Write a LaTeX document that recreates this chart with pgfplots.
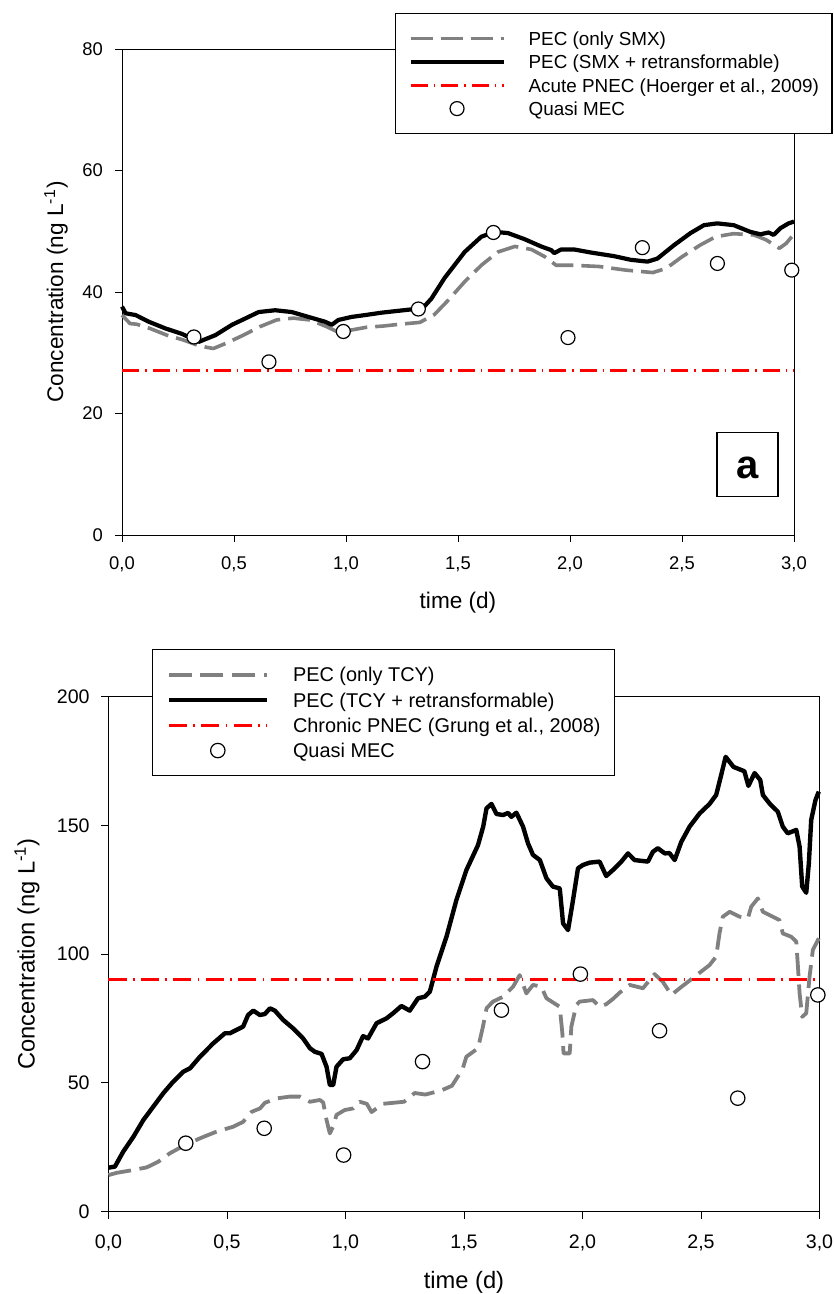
\documentclass[border=0pt]{standalone}
\usepackage{fontspec}
\setmainfont{Liberation Sans}
\usepackage{pgfplots}
\pgfplotsset{compat=1.18}
\definecolor{pecgray}{RGB}{128,128,128}
\definecolor{pnecred}{RGB}{255,0,0}

\pgfplotstableread{
x y
0.000 37.6
0.016 36.5
0.061 36.2
0.120 35.1
0.194 34.0
0.268 33.1
0.343 31.8
0.417 32.9
0.491 34.6
0.565 35.9
0.610 36.7
0.684 37.0
0.758 36.7
0.832 35.9
0.907 35.1
0.936 34.6
0.966 35.4
1.025 35.9
1.085 36.2
1.159 36.6
1.233 36.9
1.307 37.2
1.344 37.4
1.381 38.9
1.440 42.3
1.530 46.6
1.604 49.1
1.663 49.9
1.723 49.7
1.797 48.7
1.871 47.5
1.916 46.9
1.930 46.4
1.960 47.0
2.019 47.0
2.093 46.5
2.197 45.9
2.271 45.3
2.346 45.0
2.390 45.5
2.464 47.7
2.538 49.7
2.598 51.0
2.657 51.3
2.731 51.0
2.805 49.9
2.850 49.5
2.887 49.8
2.909 49.4
2.939 50.5
2.976 51.3
3.000 51.6
}\topblack

\pgfplotstableread{
x y
0.000 36.2
0.036 34.8
0.065 34.7
0.125 34.0
0.200 32.9
0.274 32.1
0.348 31.1
0.408 30.7
0.467 31.6
0.542 32.9
0.616 34.3
0.690 35.4
0.765 35.7
0.839 35.4
0.914 34.3
0.958 33.5
1.018 33.7
1.092 34.2
1.167 34.4
1.241 34.7
1.330 35.0
1.395 36.3
1.455 38.6
1.530 41.7
1.604 44.4
1.679 46.6
1.754 47.5
1.828 47.0
1.888 45.8
1.938 44.4
2.013 44.4
2.130 44.2
2.250 43.6
2.370 43.2
2.430 43.9
2.500 45.8
2.580 47.7
2.650 49.1
2.730 49.6
2.820 49.4
2.875 48.6
2.935 47.2
2.965 48.0
2.990 49.1
}\topgray

\pgfplotstableread{
x y
0.321 32.6
0.656 28.5
0.988 33.5
1.323 37.2
1.658 49.8
1.991 32.5
2.323 47.3
2.658 44.7
2.990 43.6
}\topmec

\pgfplotstableread{
x y
0.000 17.0
0.027 17.4
0.062 23.2
0.105 29.0
0.147 35.5
0.189 40.7
0.231 45.9
0.273 50.4
0.316 54.3
0.344 55.6
0.386 60.1
0.442 65.3
0.491 69.2
0.512 69.2
0.568 71.8
0.589 76.3
0.611 78.0
0.639 76.3
0.660 76.7
0.681 78.9
0.702 78.0
0.737 74.4
0.779 71.1
0.821 67.2
0.850 63.4
0.871 62.0
0.899 61.2
0.920 56.2
0.934 49.1
0.948 49.1
0.962 56.2
0.990 59.1
1.018 59.5
1.047 62.7
1.074 68.1
1.095 67.2
1.131 73.1
1.173 75.0
1.201 77.0
1.236 79.8
1.271 78.0
1.306 82.8
1.334 83.4
1.356 85.4
1.384 95.1
1.426 106.7
1.468 121.0
1.510 132.6
1.559 142.3
1.581 149.5
1.595 156.6
1.616 158.3
1.637 154.4
1.665 154.0
1.686 154.8
1.700 153.3
1.721 154.9
1.749 149.5
1.770 143.0
1.791 138.5
1.820 136.5
1.848 129.4
1.875 126.2
1.904 125.5
1.918 111.9
1.939 109.3
1.960 121.0
1.981 133.3
2.002 134.6
2.030 135.5
2.072 135.9
2.100 130.3
2.128 132.6
2.164 135.9
2.192 139.1
2.220 136.5
2.276 135.9
2.297 139.7
2.318 141.1
2.347 139.1
2.367 139.2
2.389 136.5
2.417 143.6
2.452 149.5
2.494 154.6
2.536 158.3
2.564 161.8
2.578 166.9
2.604 176.6
2.637 172.7
2.683 171.0
2.700 165.3
2.726 170.3
2.750 167.6
2.761 161.8
2.789 158.5
2.824 155.3
2.845 149.5
2.866 146.9
2.902 148.2
2.916 141.7
2.927 126.2
2.944 123.8
2.955 135.2
2.965 152.1
2.983 159.8
2.997 163.1
}\botblack

\pgfplotstableread{
x y
0.000 14.1
0.035 15.0
0.105 16.1
0.161 17.1
0.210 19.3
0.259 22.6
0.315 25.4
0.386 28.4
0.456 31.0
0.526 32.9
0.568 34.8
0.604 38.7
0.639 40.0
0.660 42.2
0.709 43.9
0.765 44.6
0.807 44.6
0.850 42.6
0.892 43.3
0.906 42.3
0.920 35.5
0.934 30.3
0.948 33.0
0.962 37.5
0.997 39.4
1.032 40.0
1.060 42.6
1.090 41.8
1.110 38.6
1.157 41.8
1.247 42.6
1.292 46.0
1.337 45.4
1.404 47.0
1.449 48.8
1.494 55.3
1.510 60.1
1.559 63.4
1.580 71.8
1.595 78.9
1.622 81.5
1.665 83.4
1.707 87.3
1.735 91.8
1.763 84.7
1.791 88.0
1.826 87.3
1.848 82.8
1.904 79.5
1.915 69.2
1.920 61.4
1.946 61.4
1.953 71.8
1.974 80.2
1.988 81.5
2.044 82.1
2.072 79.5
2.100 80.5
2.128 82.5
2.157 85.0
2.199 88.0
2.255 86.7
2.304 92.2
2.339 89.2
2.375 84.1
2.410 86.7
2.459 90.2
2.536 95.7
2.564 99.0
2.578 108.0
2.592 114.5
2.621 116.4
2.663 114.5
2.698 113.9
2.712 118.4
2.740 121.6
2.761 116.4
2.803 114.5
2.831 113.2
2.845 108.0
2.881 106.7
2.902 104.8
2.909 95.1
2.916 84.7
2.927 75.6
2.944 77.0
2.958 91.2
2.972 101.6
2.997 106.1
}\botgray

\pgfplotstableread{
x y
0.326 26.5
0.657 32.3
0.992 21.9
1.325 58.2
1.658 78.2
1.991 92.2
2.325 70.2
2.655 44.0
2.993 84.1
}\botmec

\pgfplotsset{
  myaxis/.style={
    scale only axis, anchor=south west, clip=false,
    xmin=0, xmax=3,
    xtick={0,0.5,1,1.5,2,2.5,3},
    tick pos=left, tick align=outside,
    axis line style={line width=0.5pt},
    every tick/.style={black, line width=0.5pt},
    /pgf/number format/assume math mode=true,
    xticklabel style={/pgf/number format/fixed, /pgf/number format/fixed zerofill,
      /pgf/number format/precision=1, /pgf/number format/use comma},
    yticklabel style={/pgf/number format/fixed},
    legend cell align=left,
  },
}

\begin{document}
\begin{tikzpicture}
\useasboundingbox (0pt,0pt) rectangle (417pt,-647pt);

% ---------------- top panel ----------------
\begin{axis}[myaxis,
  at={(61pt,-267.5pt)}, width=336pt, height=243pt,
  ymin=0, ymax=80, ytick={0,20,40,60,80},
  major tick length=3.5pt,
  xticklabel style={font=\fontsize{9.2}{11}\selectfont, yshift=-4pt},
  yticklabel style={font=\fontsize{9.2}{11}\selectfont, xshift=-2.5pt},
  xlabel={time (d)},
  ylabel={Concentration (ng L\textsuperscript{-1})},
  x label style={at={(axis description cs:0.5,-0.1399)}, anchor=center, font=\fontsize{11.3}{13}\selectfont},
  y label style={at={(axis description cs:-0.0982,0.5)}, anchor=center, font=\fontsize{11.3}{13}\selectfont},
  legend style={at={(rel axis cs:0.406,1.074)}, anchor=north west, draw=black, line width=0.6pt, fill=white,
    inner xsep=6.5pt, inner ysep=6.7pt, row sep=0pt, column sep=11.5pt,
    font=\fontsize{9.43}{11}\selectfont,
    nodes={inner sep=0pt, text height=9.2pt, text depth=2.45pt}},
  legend image code/.code={\draw[mark repeat=2,mark phase=2,#1] plot coordinates {(0pt,0pt) (23.25pt,0pt) (46.5pt,0pt)};},
]
\addplot[pecgray, line width=1.8pt, dash pattern=on 11pt off 4pt, line join=round] table[x=x,y=y] {\topgray};
\addlegendentry{PEC (only SMX)}
\addplot[black, line width=2.1pt, line join=round] table[x=x,y=y] {\topblack};
\addlegendentry{PEC (SMX + retransformable)}
\addplot[pnecred, line width=1.5pt, dash pattern=on 8.5pt off 3pt on 0.75pt off 3pt] coordinates {(0,27) (3,27)};
\addlegendentry{Acute PNEC (Hoerger et al., 2009)}
\addplot[only marks, mark=*, mark size=3.5pt, mark options={fill=white, draw=black, line width=0.6pt, solid}] table[x=x,y=y] {\topmec};
\addlegendentry{Quasi MEC}
\node[draw=black, line width=0.85pt, minimum width=30.5pt, minimum height=32pt, inner sep=0pt] at (rel axis cs:0.931,0.145) {};
\node[font=\fontsize{20}{20}\selectfont\bfseries, inner sep=0pt, yshift=-1.5pt] at (rel axis cs:0.931,0.145) {a};
\end{axis}

% ---------------- bottom panel ----------------
\begin{axis}[myaxis,
  at={(54.25pt,-605.7pt)}, width=355.5pt, height=257.4pt,
  ymin=0, ymax=200, ytick={0,50,100,150,200},
  major tick length=3.7pt,
  xticklabel style={font=\fontsize{9.8}{11.5}\selectfont, yshift=-4.5pt},
  yticklabel style={font=\fontsize{9.8}{11.5}\selectfont, xshift=-2.2pt},
  xlabel={time (d)},
  ylabel={Concentration (ng L\textsuperscript{-1})},
  x label style={at={(axis description cs:0.5,-0.1371)}, anchor=center, font=\fontsize{11.85}{14}\selectfont},
  y label style={at={(axis description cs:-0.1146,0.5)}, anchor=center, font=\fontsize{11.85}{14}\selectfont},
  legend style={at={(rel axis cs:0.0612,1.0925)}, anchor=north west, draw=black, line width=0.6pt, fill=white,
    inner xsep=7pt, inner ysep=6.2pt, row sep=0pt, column sep=12pt,
    font=\fontsize{9.95}{11.5}\selectfont,
    nodes={inner sep=0pt, text height=9.9pt, text depth=2.75pt}},
  legend image code/.code={\draw[mark repeat=2,mark phase=2,#1] plot coordinates {(0pt,0pt) (24.5pt,0pt) (49pt,0pt)};},
]
\addplot[pecgray, line width=1.9pt, dash pattern=on 11.5pt off 4.3pt, line join=round] table[x=x,y=y] {\botgray};
\addlegendentry{PEC (only TCY)}
\addplot[black, line width=2.2pt, line join=round] table[x=x,y=y] {\botblack};
\addlegendentry{PEC (TCY + retransformable)}
\addplot[pnecred, line width=1.55pt, dash pattern=on 9pt off 3.2pt on 0.8pt off 3.2pt] coordinates {(0,90) (3,90)};
\addlegendentry{Chronic PNEC (Grung et al., 2008)}
\addplot[only marks, mark=*, mark size=3.6pt, mark options={fill=white, draw=black, line width=0.6pt, solid}] table[x=x,y=y] {\botmec};
\addlegendentry{Quasi MEC}
\end{axis}
\end{tikzpicture}
\end{document}
